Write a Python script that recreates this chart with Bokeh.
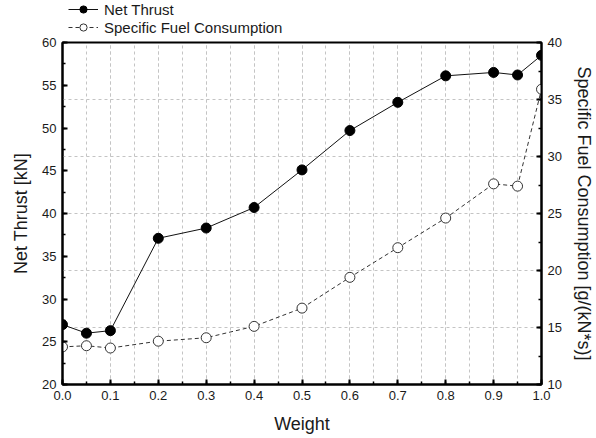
from bokeh.plotting import figure
from bokeh.layouts import column
from bokeh.models import (Range1d, LinearAxis, SingleIntervalTicker, Grid,
                          Legend, LegendItem, NumeralTickFormatter, ColumnDataSource)
from bokeh.embed import file_html
from bokeh.resources import INLINE

# Engine performance against weighting factor
weight = [0.0, 0.05, 0.1, 0.2, 0.3, 0.4, 0.5, 0.6, 0.7, 0.8, 0.9, 0.95, 1.0]
net_thrust = [27.0, 26.0, 26.3, 37.1, 38.3, 40.7, 45.1, 49.7, 53.0, 56.1, 56.5, 56.2, 58.5]
sfc = [13.3, 13.4, 13.2, 13.8, 14.1, 15.1, 16.7, 19.4, 22.0, 24.6, 27.6, 27.4, 35.9]
series_names = ["Net Thrust", "Specific Fuel Consumption"]

FONT = "Liberation Sans"
TXT = "#1a1a1a"

NT_STYLE = dict(line=dict(line_color="#111111", line_width=1),
                mark=dict(size=10, marker="circle", fill_color="black", line_color="black"))
SFC_STYLE = dict(line=dict(line_color="#333333", line_width=1, line_dash="4 3"),
                 mark=dict(size=10, marker="circle", fill_color="white",
                           line_color="#333333", line_width=1))

src = ColumnDataSource(dict(w=weight, nt=net_thrust, sfc=sfc))

p = figure(width=596, height=402, output_backend="svg", toolbar_location=None,
           x_range=Range1d(0, 1.0), y_range=Range1d(20, 60),
           min_border_left=62, min_border_right=55, min_border_top=6,
           min_border_bottom=54, x_axis_location="below", y_axis_location="left")
p.title.visible = False
p.extra_y_ranges = {"sfc": Range1d(10, 40)}
p.background_fill_color = "white"
p.border_fill_color = "white"
p.outline_line_color = "black"
p.outline_line_width = 2

xt = SingleIntervalTicker(interval=0.1, num_minor_ticks=2)
yt = SingleIntervalTicker(interval=5, num_minor_ticks=2)
rt = SingleIntervalTicker(interval=5, num_minor_ticks=2)

right_axis = LinearAxis(y_range_name="sfc", ticker=rt,
                        axis_label="Specific Fuel Consumption [g/(kN*s)]")
p.add_layout(right_axis, "right")

p.xaxis.ticker = xt
p.yaxis[0].ticker = yt
p.xaxis.formatter = NumeralTickFormatter(format="0.0")
p.xaxis.axis_label = "Weight"
p.yaxis[0].axis_label = "Net Thrust [kN]"

for ax in [p.xaxis[0], p.yaxis[0], right_axis]:
    ax.axis_line_color = "black"
    ax.axis_line_width = 2
    ax.major_tick_in = 5
    ax.major_tick_out = 0
    ax.minor_tick_in = 3
    ax.minor_tick_out = 0
    ax.major_tick_line_color = "black"
    ax.major_tick_line_width = 2
    ax.minor_tick_line_color = "black"
    ax.minor_tick_line_width = 1.5
    ax.major_label_text_font = FONT
    ax.major_label_text_font_size = "13px"
    ax.major_label_text_color = TXT
    ax.axis_label_text_font = FONT
    ax.axis_label_text_font_size = "18px"
    ax.axis_label_text_font_style = "normal"
    ax.axis_label_text_color = TXT
    ax.major_label_standoff = 6

p.xaxis.axis_label_standoff = 11
p.yaxis[0].axis_label_standoff = 8
right_axis.axis_label_standoff = 9

# Grid: vertical at every 0.05, horizontal following the right-hand scale
p.xgrid.ticker = xt
p.xgrid.grid_line_color = "#c4c4c4"
p.xgrid.grid_line_dash = "3 3"
p.xgrid.grid_line_width = 1
p.xgrid.minor_grid_line_color = "#c4c4c4"
p.xgrid.minor_grid_line_dash = "3 3"
p.xgrid.minor_grid_line_width = 1
p.ygrid.visible = False
rgrid = Grid(dimension=1, ticker=rt, y_range_name="sfc",
             grid_line_color="#c4c4c4", grid_line_dash="3 3", grid_line_width=1)
p.add_layout(rgrid)

p.line("w", "nt", source=src, **NT_STYLE["line"])
p.scatter("w", "nt", source=src, **NT_STYLE["mark"])
p.line("w", "sfc", source=src, y_range_name="sfc", **SFC_STYLE["line"])
p.scatter("w", "sfc", source=src, y_range_name="sfc", **SFC_STYLE["mark"])

# Legend strip above the plot area; its key renderers sit outside the visible range
lg = figure(width=596, height=36, output_backend="svg", toolbar_location=None,
            x_range=Range1d(0, 1), y_range=Range1d(0, 1),
            min_border=0, outline_line_color=None)
lg.title.visible = False
lg.axis.visible = False
lg.grid.visible = False
offscreen = ColumnDataSource(dict(x=[-10, -9], y=[-10, -10]))
k1 = lg.line("x", "y", source=offscreen, **NT_STYLE["line"])
s1 = lg.scatter("x", "y", source=offscreen, **NT_STYLE["mark"])
k2 = lg.line("x", "y", source=offscreen, **SFC_STYLE["line"])
s2 = lg.scatter("x", "y", source=offscreen, **SFC_STYLE["mark"])

legend = Legend(items=[LegendItem(label=series_names[0], renderers=[k1, s1]),
                       LegendItem(label=series_names[1], renderers=[k2, s2])],
                location=(6, 0), orientation="vertical",
                border_line_color=None, background_fill_alpha=0,
                padding=0, margin=0, spacing=0, label_standoff=6,
                glyph_width=30, glyph_height=18, label_height=18,
                label_text_font=FONT, label_text_font_size="15px",
                label_text_color=TXT)
lg.add_layout(legend, "center")

page = column(lg, p, spacing=0)
open("out.html", "w").write(file_html(page, INLINE))
